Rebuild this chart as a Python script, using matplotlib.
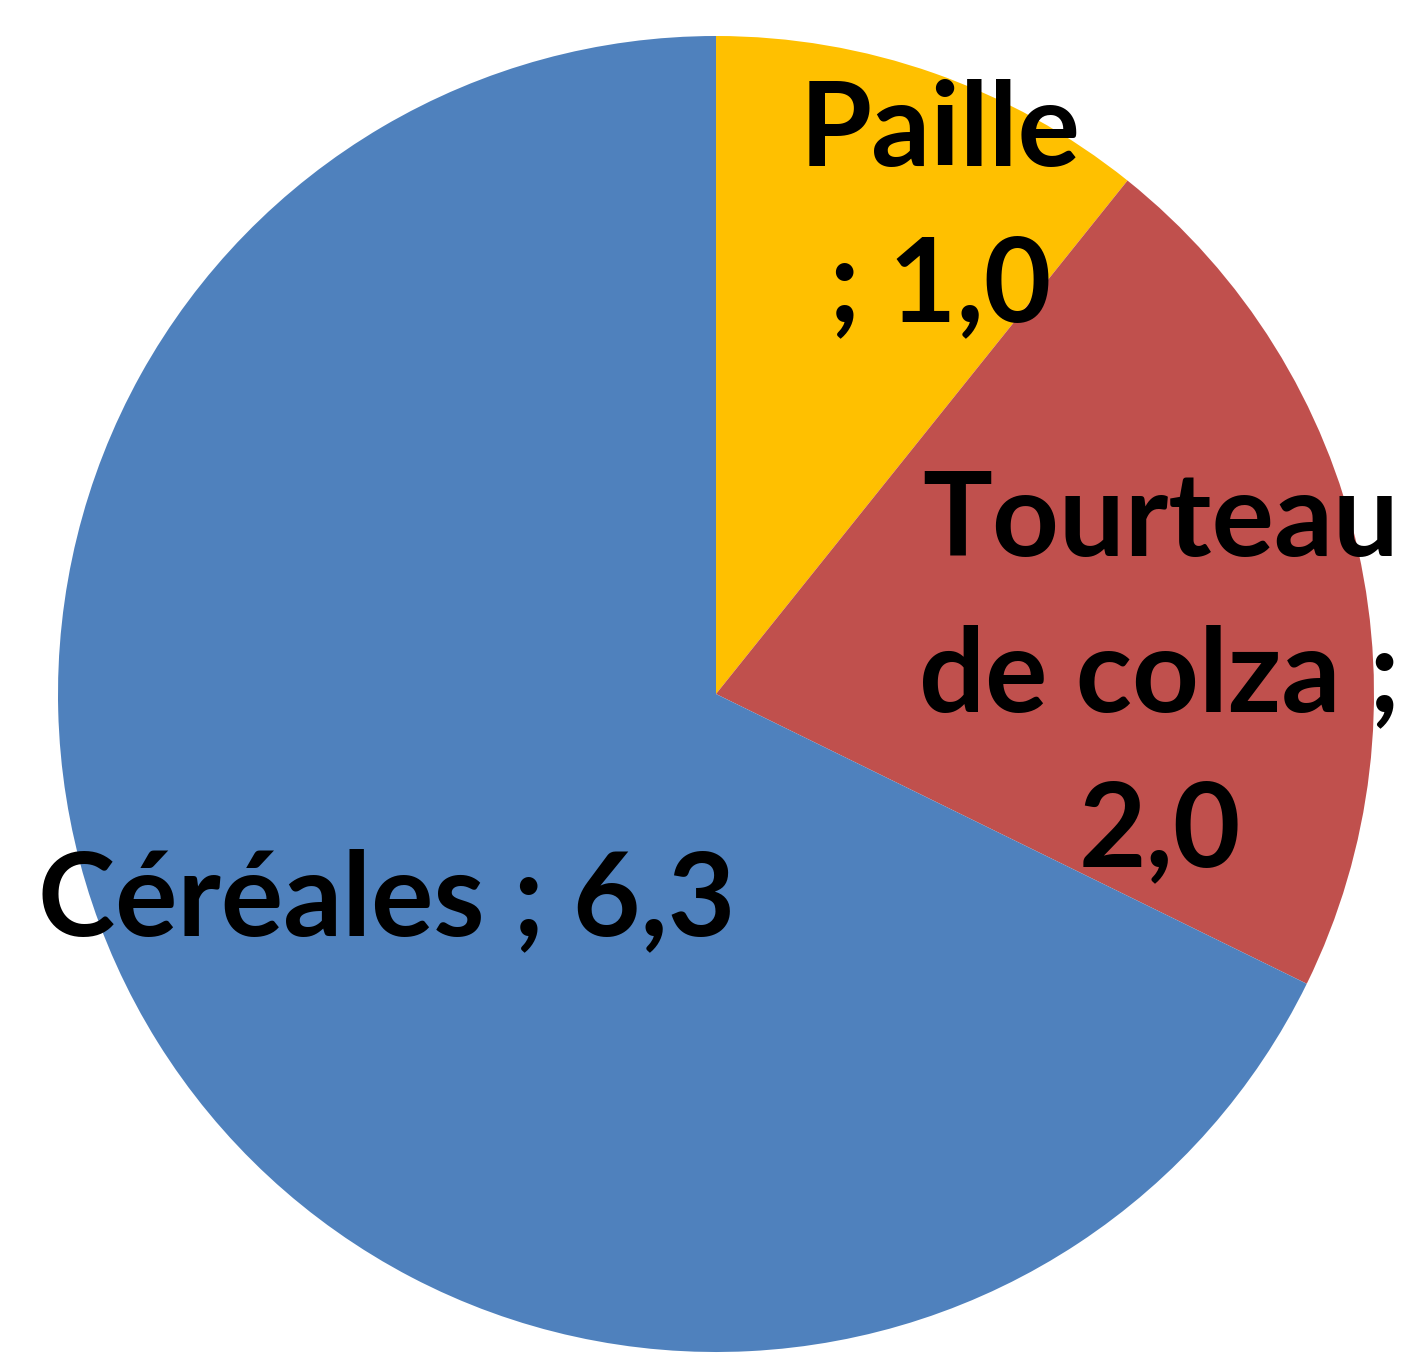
import matplotlib.pyplot as plt

# Data
labels = ["Paille", "Tourteau de colza", "Céréales"]
values = [1.0, 2.0, 6.3]
colors = ["#FFC000", "#C0504D", "#4F81BD"]
label_texts = ["Paille\n; 1,0", "Tourteau\nde colza ;\n2,0", "Céréales ; 6,3"]
label_pos = [(0.34, 0.735), (0.675, 0.025), (-0.50, -0.315)]

fig = plt.figure(figsize=(14.15, 13.62), dpi=100)
ax = fig.add_axes([0, 0, 1, 1])

ax.pie(values, colors=colors, startangle=90, counterclock=False, radius=1.0,
       wedgeprops=dict(linewidth=0))

for txt, (x, y) in zip(label_texts, label_pos):
    ax.text(x, y, txt, ha="center", va="center", multialignment="center",
            fontsize=84, fontweight="bold", family=["Lato", "DejaVu Sans"],
            linespacing=1.55)

# circle center ~ (716, 694) px, radius ~658 px
ax.set_xlim(-716 / 658, (1415 - 716) / 658)
ax.set_ylim(-(1362 - 694) / 658, 694 / 658)
ax.set_aspect("auto")
ax.axis("off")

fig.savefig("out.png", dpi=100)
